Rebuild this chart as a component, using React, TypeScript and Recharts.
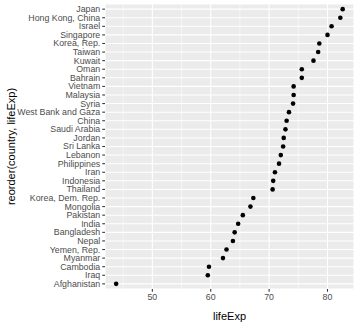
import { ScatterChart, Scatter, XAxis, YAxis, CartesianGrid, ReferenceLine } from 'recharts';

// countries top -> bottom, ordered by life expectancy
const countries = [
  'Japan', 'Hong Kong, China', 'Israel', 'Singapore', 'Korea, Rep.', 'Taiwan', 'Kuwait',
  'Oman', 'Bahrain', 'Vietnam', 'Malaysia', 'Syria', 'West Bank and Gaza', 'China',
  'Saudi Arabia', 'Jordan', 'Sri Lanka', 'Lebanon', 'Philippines', 'Iran', 'Indonesia',
  'Thailand', 'Korea, Dem. Rep.', 'Mongolia', 'Pakistan', 'India', 'Bangladesh', 'Nepal',
  'Yemen, Rep.', 'Myanmar', 'Cambodia', 'Iraq', 'Afghanistan'
];

const lifeExp = [
  82.6, 82.2, 80.7, 80.0, 78.6, 78.4, 77.6,
  75.6, 75.6, 74.2, 74.2, 74.1, 73.4, 73.0,
  72.8, 72.5, 72.4, 72.0, 71.7, 71.0, 70.7,
  70.6, 67.3, 66.8, 65.5, 64.7, 64.1, 63.8,
  62.7, 62.1, 59.7, 59.5, 43.8
];

const xTicks = [50, 60, 70, 80];
const xMinor = [45, 55, 65, 75];

const n = countries.length;
const data = countries.map((c, i) => ({ country: c, lifeExp: lifeExp[i], rank: n - 1 - i }));
const rankTicks = data.map((d) => d.rank);
const nameByRank = (v: number) => countries[n - 1 - v] ?? '';

const font = '"Liberation Sans", Arial, Helvetica, sans-serif';

function YTick(props: any) {
  const { x, y, payload } = props;
  return (
    <text x={x} y={y} dy="0.34em" textAnchor="end" fontSize={8.8} fill="#4D4D4D" fontFamily={font}>
      {nameByRank(payload.value)}
    </text>
  );
}

function XTick(props: any) {
  const { x, y, payload } = props;
  return (
    <text x={x} y={y} dy="0.75em" textAnchor="middle" fontSize={8.8} fill="#4D4D4D" fontFamily={font}>
      {payload.value}
    </text>
  );
}

export default function App() {
  return (
    <div style={{ position: 'absolute', left: 0, top: 0, width: 360, height: 324, background: '#fff' }}>
      <ScatterChart
        width={360}
        height={324}
        margin={{ top: 4, right: 6, bottom: 0, left: 0 }}
        style={{ fontFamily: font }}
      >
        <CartesianGrid fill="#EBEBEB" stroke="#FFFFFF" strokeWidth={1.07} />
        {xMinor.map((v) => (
          <ReferenceLine key={v} x={v} stroke="#FFFFFF" strokeWidth={0.53} />
        ))}
        <XAxis
          type="number"
          dataKey="lifeExp"
          domain={[41.89, 84.54]}
          ticks={xTicks}
          height={35}
          axisLine={false}
          tickSize={2.75}
          tickMargin={2}
          tickLine={{ stroke: '#333333', strokeWidth: 1.07 }}
          tick={<XTick />}
          allowDataOverflow
          label={{ value: 'lifeExp', position: 'insideBottom', offset: 4, fontSize: 11, fill: '#000' }}
        />
        <YAxis
          type="number"
          dataKey="rank"
          domain={[-0.6, n - 0.4]}
          ticks={rankTicks}
          interval={0}
          width={105}
          axisLine={false}
          tickSize={2.75}
          tickMargin={2}
          tickLine={{ stroke: '#333333', strokeWidth: 1.07 }}
          tick={<YTick />}
          allowDataOverflow
          label={{
            value: 'reorder(country, lifeExp)',
            angle: -90,
            position: 'insideLeft',
            offset: 11,
            fontSize: 11,
            fill: '#000',
            style: { textAnchor: 'middle' }
          }}
        />
        <Scatter
          data={data}
          isAnimationActive={false}
          shape={(p: any) => <circle cx={p.cx} cy={p.cy} r={2.3} fill="#000000" />}
        />
      </ScatterChart>
    </div>
  );
}
